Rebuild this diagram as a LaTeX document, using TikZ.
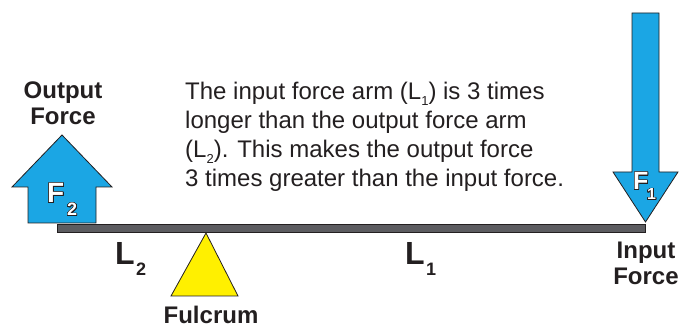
\documentclass[tikz,border=0pt]{standalone}
\usepackage{fontspec}
\setmainfont{Liberation Sans}
\usepackage{tikz}
\usepackage{contour}
\usetikzlibrary{positioning}
\definecolor{leverBlue}{RGB}{27,166,228}
\definecolor{leverYellow}{RGB}{255,240,0}
\definecolor{leverGray}{RGB}{92,92,96}
\definecolor{leverInk}{RGB}{35,31,32}
\contourlength{0.7pt}
\contournumber{24}
\newcommand{\outl}[1]{\contour{leverInk}{\textcolor{white}{#1}}}
\newcommand{\lsub}[1]{\raisebox{-0.45ex}{\fontsize{13}{13}\selectfont #1}}

\begin{document}
\begin{tikzpicture}[x=1pt,y=-1pt,
  part/.style={draw=leverInk, line width=0.8pt, line join=miter},
  lbl/.style={font=\bfseries\fontsize{24}{26}\selectfont, align=center, text=leverInk, inner sep=0pt},
  arm/.style={font=\bfseries\fontsize{32}{32}\selectfont, text=leverInk, inner sep=0pt, anchor=base west},
  armsub/.style={font=\bfseries\fontsize{18}{18}\selectfont, text=leverInk, inner sep=0pt, anchor=base west},
  body/.style={font=\fontsize{24}{29}\selectfont, align=left, text=leverInk, inner sep=0pt}]
\useasboundingbox (0,0) rectangle (681,328);
% lever and fulcrum
\draw[part, fill=leverGray] (57,224) rectangle (645,232);
\draw[part, fill=leverYellow] (206,233) -- (238,296) -- (171,296) -- cycle;
% force arrows
\draw[part, fill=leverBlue] (28,223) -- (28,187) -- (12,187) -- (62,135)
  -- (112,187) -- (96,187) -- (96,223) -- cycle;
\draw[part, fill=leverBlue] (632,13) -- (659,13) -- (659,172) -- (678,172)
  -- (645.5,222) -- (613,172) -- (632,172) -- cycle;
\node[anchor=base west, inner sep=0pt, font=\bfseries\fontsize{28}{28}\selectfont] (f2) at (47,203) {\outl{F}};
\node[anchor=base west, inner sep=0pt, font=\bfseries\fontsize{18}{18}\selectfont] (f2sub) at (67,216) {\outl{2}};
\node[anchor=base west, inner sep=0pt, font=\bfseries\fontsize{25}{25}\selectfont] (f1) at (633,190) {\outl{F}};
\node[anchor=base west, inner sep=0pt, font=\bfseries\fontsize{16}{16}\selectfont] (f1sub) at (647,200) {\outl{1}};
% labels (base = last line)
\node[lbl, anchor=base] (outlbl) at (63,125) {Output\\Force};
\node[lbl, anchor=base] (inlbl) at (646,285) {Input\\Force};
\node[lbl, anchor=base] (fulcrum) at (211,324) {Fulcrum};
\node[arm] (l2) at (115,265) {L};
\node[armsub] (l2sub) at (136,276) {2};
\node[arm] (l1) at (405,265) {L};
\node[armsub] (l1sub) at (426,276) {1};
\node[body, anchor=base west] (note) at (185,187)
  {The input force arm (L\lsub{1}) is 3 times\\
   longer than the output force arm\\
   (L\lsub{2}). This makes the output force\\
   3 times greater than the input force.};
\end{tikzpicture}
\end{document}
